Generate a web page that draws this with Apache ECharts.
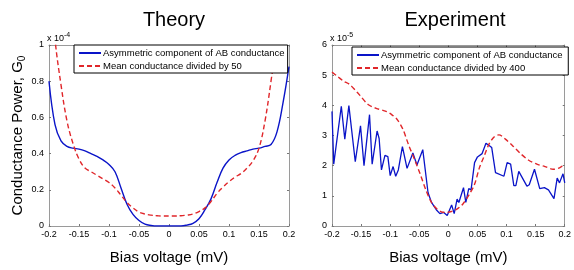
<!DOCTYPE html>
<html>
<head>
<meta charset="UTF-8">
<title>Theory vs Experiment</title>
<script src="https://cdn.jsdelivr.net/npm/echarts@6/dist/echarts.min.js"></script>
<style>
  body { margin: 0; padding: 0; background: #fff; }
  #main { width: 574px; height: 270px; }
</style>
</head>
<body>
<div id="main"></div>
<script type="text/javascript">
// theory: bias grid (mV) and the two curves (units of 1e-4 G0)
var thBias = [-0.2,-0.19,-0.18,-0.17,-0.16,-0.15,-0.14,-0.13,-0.12,-0.11,-0.1,-0.09,-0.08,-0.07,-0.06,-0.05,-0.04,-0.03,-0.02,-0.01,0,
  0.01,0.02,0.03,0.04,0.05,0.06,0.07,0.08,0.09,0.1,0.11,0.12,0.13,0.14,0.15,0.16,0.17,0.18,0.19,0.2];
var thAsym = [0.80,0.56,0.47,0.44,0.43,0.425,0.415,0.40,0.385,0.365,0.34,0.30,0.21,0.12,0.064,0.03,0.01,0.003,0,0,0,
  0,0,0.005,0.015,0.04,0.09,0.15,0.24,0.32,0.365,0.39,0.405,0.415,0.425,0.43,0.44,0.45,0.52,0.68,0.88];
var thMean = [1.4,1.03,0.78,0.58,0.456,0.37,0.32,0.30,0.28,0.26,0.24,0.21,0.17,0.13,0.10,0.077,0.066,0.06,0.057,0.055,0.055,
  0.055,0.057,0.06,0.066,0.08,0.10,0.135,0.18,0.215,0.245,0.27,0.29,0.32,0.36,0.43,0.58,0.80,1.05,1.4,1.8];

// experiment: blue trace (units of 1e-5 G0)
var exBiasA = [-0.2,-0.197,-0.184,-0.178,-0.171,-0.160,-0.151,-0.145,-0.1355,-0.131,-0.1225,-0.119,-0.115,-0.109,-0.104,-0.1,-0.095,-0.0905,
  -0.086,-0.079,-0.071,-0.061,-0.054,-0.044,-0.035,-0.029,-0.020,-0.0146,-0.008,-0.002,0.0056,0.010,0.015,0.018,0.026,0.030,0.035,0.039,
  0.045,0.050,0.058,0.0646,0.070,0.0745,0.081,0.0955,0.101,0.107,0.1125,0.116,0.121,0.135,0.139,0.148,0.157,0.165,0.172,0.1815,
  0.187,0.191,0.197,0.2];
var exAsym = [3.8,2.05,3.97,2.88,3.99,2.13,3.32,2.0,3.69,2.05,3.15,2.9,1.86,2.34,2.3,1.67,1.97,1.65,
  1.86,2.63,1.91,2.42,2.02,2.53,1.11,0.78,0.52,0.41,0.45,0.35,0.70,0.41,0.89,0.78,1.27,0.78,1.24,1.2,
  2.10,2.29,2.40,2.74,2.67,2.6,1.77,1.65,2.10,2.05,1.34,1.34,1.81,1.32,1.37,1.88,1.24,1.27,1.2,0.91,
  1.59,1.43,1.73,1.43];
// experiment: red trace (mean / 400)
var exBiasM = [-0.2,-0.19,-0.18,-0.171,-0.16,-0.152,-0.138,-0.124,-0.107,-0.098,-0.088,-0.078,-0.068,-0.058,-0.048,-0.038,-0.029,-0.02,
  -0.012,-0.003,0.005,0.014,0.025,0.036,0.045,0.053,0.062,0.070,0.079,0.087,0.098,0.110,0.124,0.138,0.152,0.166,0.180,0.191,0.2];
var exMean = [5.1,4.95,4.8,4.71,4.5,4.33,4.03,3.9,3.8,3.7,3.53,3.2,2.67,2.2,1.7,1.16,0.78,0.57,
  0.47,0.45,0.48,0.55,0.73,1.05,1.38,1.91,2.34,2.72,2.96,3.02,2.88,2.67,2.40,2.18,2.05,1.97,1.88,1.93,2.05];

var xTicks = { min: -0.2, max: 0.2, interval: 0.05 };

function pairs(xs, ys) {
  var out = [];
  for (var i = 0; i < xs.length; i++) out.push([xs[i], ys[i]]);
  return out;
}

var axisGray = '#9a9a9a';
var lblStyle = { color: '#000', fontSize: 9, fontFamily: 'Arial, Liberation Sans' };

function xAx(grid, pos, labels) {
  return {
    type: 'value', gridIndex: grid, position: pos,
    min: xTicks.min, max: xTicks.max, interval: xTicks.interval,
    axisLine: { onZero: false, lineStyle: { color: axisGray, width: 1 } },
    axisTick: { show: true, inside: true, length: 2, lineStyle: { color: '#777' } },
    axisLabel: labels ? Object.assign({ margin: 4 }, lblStyle) : { show: false },
    splitLine: { show: false },
    name: labels ? 'Bias voltage (mV)' : '',
    nameLocation: 'middle', nameGap: 24,
    nameTextStyle: { fontSize: 15, color: '#000', fontFamily: 'Arial, Liberation Sans' }
  };
}
function yAx(grid, pos, max, labels, name) {
  return {
    type: 'value', gridIndex: grid, position: pos,
    min: 0, max: max, interval: max === 1 ? 0.2 : 1,
    axisLine: { onZero: false, lineStyle: { color: axisGray, width: 1 } },
    axisTick: { show: true, inside: true, length: 2, lineStyle: { color: '#777' } },
    axisLabel: labels ? Object.assign({ margin: 5 }, lblStyle) : { show: false },
    splitLine: { show: false },
    name: name || '',
    nameLocation: 'middle', nameGap: 22, nameRotate: 90,
    nameTextStyle: {
      fontSize: 15, color: '#000', fontFamily: 'Arial, Liberation Sans',
      rich: { sub: { fontSize: 10, verticalAlign: 'bottom', padding: [8, 0, 0, 0], fontFamily: 'Arial, Liberation Sans' } }
    }
  };
}

var legendBase = {
  orient: 'vertical', backgroundColor: '#fff', borderColor: '#000', borderWidth: 1,
  padding: [3, 3, 2, 4], itemGap: 3, itemWidth: 22, itemHeight: 9,
  itemStyle: { opacity: 0 },
  textStyle: { fontSize: 9.5, color: '#000', fontFamily: 'Arial, Liberation Sans', padding: [0, 0, 0, -3] }
};

var blue = '#0a14c8';
var red = '#e0262a';

var myChart = echarts.init(document.getElementById('main'));
var option = {
  animation: false,
  backgroundColor: '#fff',
  title: [
    { text: 'Theory', left: 169, top: 5, textAlign: 'center',
      textStyle: { fontSize: 20, fontWeight: 'normal', color: '#000', fontFamily: 'Arial, Liberation Sans' } },
    { text: 'Experiment', left: 450, top: 5, textAlign: 'center',
      textStyle: { fontSize: 20, fontWeight: 'normal', color: '#000', fontFamily: 'Arial, Liberation Sans' } }
  ],
  grid: [
    { left: 49, right: 285, top: 45, bottom: 38 },
    { left: 332, right: 5, top: 45, bottom: 39 }
  ],
  legend: [
    Object.assign({}, legendBase, { left: 74, top: 45,
      data: ['Asymmetric component of AB conductance', 'Mean conductance divided by 50'] }),
    Object.assign({}, legendBase, { left: 352, top: 47,
      data: ['Asymmetric component of AB conductance ', 'Mean conductance divided by 400'] })
  ],
  xAxis: [xAx(0, 'bottom', true), xAx(0, 'top', false), xAx(1, 'bottom', true), xAx(1, 'top', false)],
  yAxis: [
    yAx(0, 'left', 1, true, 'Conductance Power, G{sub|0}'),
    yAx(0, 'right', 1, false),
    yAx(1, 'left', 6, true),
    yAx(1, 'right', 6, false)
  ],
  graphic: [
    { type: 'text', left: 47, top: 32, style: { text: 'x 10{s|-4}', fill: '#000', fontSize: 9, fontFamily: 'Arial, Liberation Sans',
      rich: { s: { fontSize: 7, verticalAlign: 'top', padding: [0, 0, 6, 0] } } } },
    { type: 'text', left: 330, top: 32, style: { text: 'x 10{s|-5}', fill: '#000', fontSize: 9, fontFamily: 'Arial, Liberation Sans',
      rich: { s: { fontSize: 7, verticalAlign: 'top', padding: [0, 0, 6, 0] } } } }
  ],
  series: [
    { name: 'Asymmetric component of AB conductance', type: 'line', xAxisIndex: 0, yAxisIndex: 0,
      data: pairs(thBias, thAsym), smooth: 0.4, showSymbol: false, symbol: 'none', clip: true,
      lineStyle: { color: blue, width: 1.4 }, itemStyle: { color: blue } },
    { name: 'Mean conductance divided by 50', type: 'line', xAxisIndex: 0, yAxisIndex: 0,
      data: pairs(thBias, thMean), smooth: 0.4, showSymbol: false, symbol: 'none', clip: true,
      lineStyle: { color: red, width: 1.4, type: [5, 3] }, itemStyle: { color: red } },
    { name: 'Asymmetric component of AB conductance ', type: 'line', xAxisIndex: 2, yAxisIndex: 2,
      data: pairs(exBiasA, exAsym), showSymbol: false, symbol: 'none', clip: true,
      lineStyle: { color: blue, width: 1.3 }, itemStyle: { color: blue } },
    { name: 'Mean conductance divided by 400', type: 'line', xAxisIndex: 2, yAxisIndex: 2,
      data: pairs(exBiasM, exMean), smooth: 0.3, showSymbol: false, symbol: 'none', clip: true,
      lineStyle: { color: red, width: 1.4, type: [5, 3] }, itemStyle: { color: red } }
  ]
};
myChart.setOption(option);
</script>
</body>
</html>
